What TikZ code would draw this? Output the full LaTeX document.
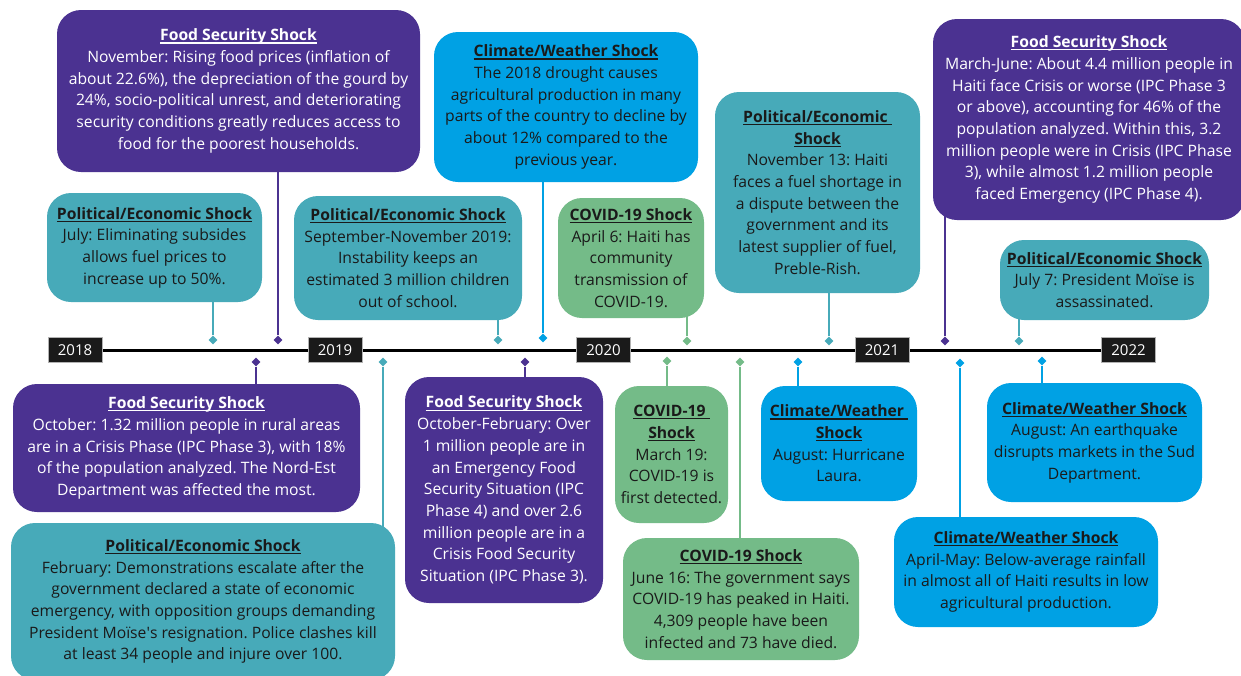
\documentclass[tikz,border=0pt]{standalone}
\usepackage{fontspec}
\setmainfont{Open Sans}
\frenchspacing
\usetikzlibrary{shapes.geometric,backgrounds}
\definecolor{foodc}{RGB}{75,50,145}
\definecolor{polc}{RGB}{71,170,185}
\definecolor{climc}{RGB}{0,161,228}
\definecolor{covc}{RGB}{116,187,136}
\definecolor{txtc}{RGB}{26,26,26}
\definecolor{yrc}{RGB}{26,26,26}
\newcommand{\hd}[1]{\setbox0\hbox{\textbf{#1}}\rlap{\rule[-2.8pt]{\wd0}{1.2pt}}\box0}
\tikzset{
  box/.style={rounded corners=24pt, inner sep=0pt, align=center, font=\fontsize{15.7}{21.7}\selectfont},
  food/.style={box, fill=foodc, text=white},
  pol/.style={box, fill=polc, text=txtc},
  clim/.style={box, fill=climc, text=txtc},
  cov/.style={box, fill=covc, text=txtc},
  yr/.style={fill=yrc, draw=gray!60, line width=0.8pt, text=white, font=\fontsize{15}{18}\selectfont, minimum width=54pt, minimum height=25pt, inner sep=0pt},
  mk/.style={diamond, inner sep=0pt, minimum size=9pt},
  con/.style={line width=2pt},
}
\begin{document}
\begin{tikzpicture}[x=1pt,y=-1pt]
\useasboundingbox (0,0) rectangle (1241,675);

% year labels
\node[yr] (y2018) at (75,350) {2018};
\node[yr] (y2019) at (335,350) {2019};
\node[yr] (y2020) at (603.5,350) {2020};
\node[yr] (y2021) at (882,350) {2021};
\node[yr] (y2022) at (1128.5,350) {2022};

% boxes above
\node[food, minimum width=363pt, minimum height=162pt] (b1) at (238.5,91) {\hd{Food Security Shock}\\November: Rising food prices (inflation of\\about 22.6\%), the depreciation of the gourd by\\24\%, socio-political unrest, and deteriorating\\security conditions greatly reduces access to\\food for the poorest households.};
\node[pol, minimum width=215pt, minimum height=109pt] (b2) at (154.5,247.5) {\hd{Political/Economic Shock}\\July: Eliminating subsides\\allows fuel prices to\\increase up to 50\%.};
\node[pol, minimum width=228pt, minimum height=124pt] (b3) at (408,258) {\hd{Political/Economic Shock}\\September-November 2019:\\Instability keeps an\\estimated 3 million children\\out of school.};
\node[clim, minimum width=264pt, minimum height=150pt] (b4) at (566,107) {\hd{Climate/Weather Shock}\\The 2018 drought causes\\agricultural production in many\\parts of the country to decline by\\about 12\% compared to the\\previous year.};
\node[cov, minimum width=146pt, minimum height=120pt] (b5) at (631,258) {\hd{COVID-19 Shock}\\April 6: Haiti has\\community\\transmission of\\COVID-19.};
\node[pol, minimum width=205pt, minimum height=201pt] (b6) at (817.5,192.5) {\hd{Political/Economic }\\\hd{Shock}\\November 13: Haiti\\faces a fuel shortage in\\a dispute between the\\government and its\\latest supplier of fuel,\\Preble-Rish.};
\node[food, minimum width=312pt, minimum height=201pt] (b7) at (1089,119.5) {\hd{Food Security Shock}\\March-June: About 4.4 million people in\\Haiti face Crisis or worse (IPC Phase 3\\or above), accounting for 46\% of the\\population analyzed. Within this, 3.2\\million people were in Crisis (IPC Phase\\3), while almost 1.2 million people\\faced Emergency (IPC Phase 4).};
\node[pol, minimum width=209pt, minimum height=80pt] (b8) at (1104.5,280) {\hd{Political/Economic Shock}\\July 7: President Moïse is\\assassinated.};

% boxes below
\node[food, minimum width=347pt, minimum height=128pt] (b9) at (186.5,448) {\hd{Food Security Shock}\\October: 1.32 million people in rural areas\\are in a Crisis Phase (IPC Phase 3), with 18\%\\of the population analyzed. The Nord-Est\\Department was affected the most.};
\node[pol, minimum width=384pt, minimum height=157pt] (b10) at (203,601.5) {\hd{Political/Economic Shock}\\February: Demonstrations escalate after the\\government declared a state of economic\\emergency, with opposition groups demanding\\President Moïse\textquotesingle s resignation. Police clashes kill\\at least 34 people and injure over 100.};
\node[food, minimum width=198pt, minimum height=226pt] (b11) at (504,490) {\hd{Food Security Shock}\\October-February: Over\\1 million people are in\\an Emergency Food\\Security Situation (IPC\\Phase 4) and over 2.6\\million people are in a\\Crisis Food Security\\Situation (IPC Phase 3).};
\node[cov, minimum width=113pt, minimum height=137pt] (b12) at (671.5,454.5) {\hd{COVID-19 }\\\hd{Shock}\\March 19:\\COVID-19 is\\first detected.};
\node[cov, minimum width=236pt, minimum height=122pt] (b13) at (741,599) {\hd{COVID-19 Shock}\\June 16: The government says\\COVID-19 has peaked in Haiti.\\4,309 people have been\\infected and 73 have died.};
\node[clim, minimum width=156pt, minimum height=115pt] (b14) at (839,443.5) {\hd{Climate/Weather }\\\hd{Shock}\\August: Hurricane\\Laura.};
\node[clim, minimum width=264pt, minimum height=110pt] (b15) at (1026,572) {\hd{Climate/Weather Shock}\\April-May: Below-average rainfall\\in almost all of Haiti results in low\\agricultural production.};
\node[clim, minimum width=215pt, minimum height=119pt] (b16) at (1094.5,442.5) {\hd{Climate/Weather Shock}\\August: An earthquake\\disrupts markets in the Sud\\Department.};

% markers
\node[mk, fill=polc]  (d2) at (213,340) {};
\node[mk, fill=foodc] (d1) at (278,340) {};
\node[mk, fill=polc]  (d3) at (498,340) {};
\node[mk, fill=climc] (d4) at (543,338) {};
\node[mk, fill=covc]  (d5) at (687,341) {};
\node[mk, fill=polc]  (d6) at (829,341) {};
\node[mk, fill=foodc] (d7) at (945,341) {};
\node[mk, fill=polc]  (d8) at (1019,341) {};
\node[mk, fill=foodc] (d9) at (256,362) {};
\node[mk, fill=polc]  (d10) at (383,362) {};
\node[mk, fill=foodc] (d11) at (525,362) {};
\node[mk, fill=covc]  (d12) at (667,361) {};
\node[mk, fill=covc]  (d13) at (740,362) {};
\node[mk, fill=climc] (d14) at (798,362) {};
\node[mk, fill=climc] (d15) at (960,363) {};
\node[mk, fill=climc] (d16) at (1042,361) {};

\begin{scope}[on background layer]
\fill[white] (0,0) rectangle (1241,675);
\draw[line width=3pt, black] (y2018.east) -- (y2022.west);
\draw[con, foodc] (d1) -- (d1 |- b1.center);
\draw[con, polc]  (d2) -- (d2 |- b2.center);
\draw[con, polc]  (d3) -- (d3 |- b3.center);
\draw[con, climc] (d4) -- (d4 |- b4.center);
\draw[con, covc]  (d5) -- (d5 |- b5.center);
\draw[con, polc]  (d6) -- (d6 |- b6.center);
\draw[con, foodc] (d7) -- (d7 |- b7.center);
\draw[con, polc]  (d8) -- (d8 |- b8.center);
\draw[con, foodc] (d9) -- (d9 |- b9.center);
\draw[con, polc]  (d10) -- (d10 |- b10.center);
\draw[con, foodc] (d11) -- (d11 |- b11.center);
\draw[con, covc]  (d12) -- (d12 |- b12.center);
\draw[con, covc]  (d13) -- (d13 |- b13.center);
\draw[con, climc] (d14) -- (d14 |- b14.center);
\draw[con, climc] (d15) -- (d15 |- b15.center);
\draw[con, climc] (d16) -- (d16 |- b16.center);
\end{scope}
\end{tikzpicture}
\end{document}
